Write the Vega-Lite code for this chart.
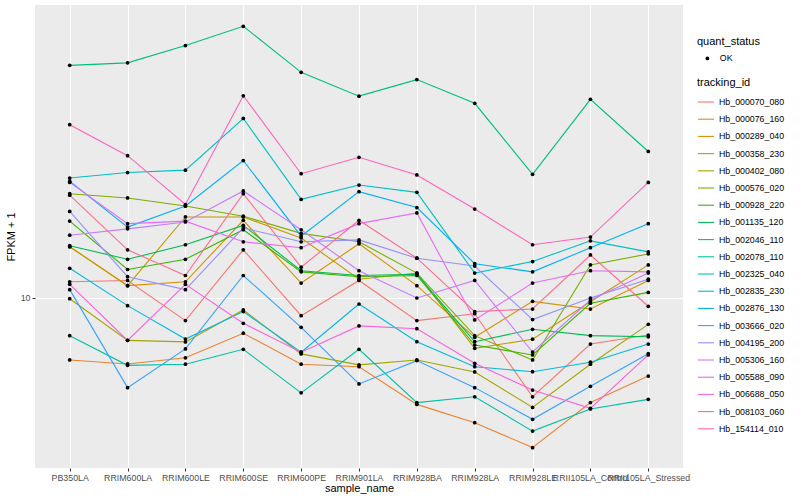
{
"$schema":"https://vega.github.io/schema/vega-lite/v6.json",
"width":648,"height":463,
"autosize":{"type":"none"},
"padding":{"left":35,"top":5,"right":117,"bottom":32},
"background":"white",
"data":{"values":[
{"id":"Hb_000070_080","sample":"PB350LA","fpkm":11.2,"status":"OK"},{"id":"Hb_000070_080","sample":"RRIM600LA","fpkm":11.3,"status":"OK"},{"id":"Hb_000070_080","sample":"RRIM600LE","fpkm":8.54,"status":"OK"},{"id":"Hb_000070_080","sample":"RRIM600SE","fpkm":14.0,"status":"OK"},{"id":"Hb_000070_080","sample":"RRIM600PE","fpkm":8.84,"status":"OK"},{"id":"Hb_000070_080","sample":"RRIM901LA","fpkm":11.3,"status":"OK"},{"id":"Hb_000070_080","sample":"RRIM928BA","fpkm":8.54,"status":"OK"},{"id":"Hb_000070_080","sample":"RRIM928LA","fpkm":8.96,"status":"OK"},{"id":"Hb_000070_080","sample":"RRIM928LE","fpkm":5.02,"status":"OK"},{"id":"Hb_000070_080","sample":"RRII105LA_Control","fpkm":7.25,"status":"OK"},{"id":"Hb_000070_080","sample":"RRII105LA_Stressed","fpkm":7.72,"status":"OK"},
{"id":"Hb_000076_160","sample":"PB350LA","fpkm":6.49,"status":"OK"},{"id":"Hb_000076_160","sample":"RRIM600LA","fpkm":6.31,"status":"OK"},{"id":"Hb_000076_160","sample":"RRIM600LE","fpkm":6.59,"status":"OK"},{"id":"Hb_000076_160","sample":"RRIM600SE","fpkm":7.82,"status":"OK"},{"id":"Hb_000076_160","sample":"RRIM600PE","fpkm":6.30,"status":"OK"},{"id":"Hb_000076_160","sample":"RRIM901LA","fpkm":6.19,"status":"OK"},{"id":"Hb_000076_160","sample":"RRIM928BA","fpkm":4.76,"status":"OK"},{"id":"Hb_000076_160","sample":"RRIM928LA","fpkm":4.19,"status":"OK"},{"id":"Hb_000076_160","sample":"RRIM928LE","fpkm":3.52,"status":"OK"},{"id":"Hb_000076_160","sample":"RRII105LA_Control","fpkm":4.82,"status":"OK"},{"id":"Hb_000076_160","sample":"RRII105LA_Stressed","fpkm":5.80,"status":"OK"},
{"id":"Hb_000289_040","sample":"PB350LA","fpkm":14.3,"status":"OK"},{"id":"Hb_000289_040","sample":"RRIM600LA","fpkm":10.9,"status":"OK"},{"id":"Hb_000289_040","sample":"RRIM600LE","fpkm":11.2,"status":"OK"},{"id":"Hb_000289_040","sample":"RRIM600SE","fpkm":17.2,"status":"OK"},{"id":"Hb_000289_040","sample":"RRIM600PE","fpkm":11.1,"status":"OK"},{"id":"Hb_000289_040","sample":"RRIM901LA","fpkm":14.6,"status":"OK"},{"id":"Hb_000289_040","sample":"RRIM928BA","fpkm":10.9,"status":"OK"},{"id":"Hb_000289_040","sample":"RRIM928LA","fpkm":7.60,"status":"OK"},{"id":"Hb_000289_040","sample":"RRIM928LE","fpkm":9.77,"status":"OK"},{"id":"Hb_000289_040","sample":"RRII105LA_Control","fpkm":9.26,"status":"OK"},{"id":"Hb_000289_040","sample":"RRII105LA_Stressed","fpkm":11.3,"status":"OK"},
{"id":"Hb_000358_230","sample":"PB350LA","fpkm":14.3,"status":"OK"},{"id":"Hb_000358_230","sample":"RRIM600LA","fpkm":10.9,"status":"OK"},{"id":"Hb_000358_230","sample":"RRIM600LE","fpkm":17.6,"status":"OK"},{"id":"Hb_000358_230","sample":"RRIM600SE","fpkm":17.6,"status":"OK"},{"id":"Hb_000358_230","sample":"RRIM600PE","fpkm":15.2,"status":"OK"},{"id":"Hb_000358_230","sample":"RRIM901LA","fpkm":11.4,"status":"OK"},{"id":"Hb_000358_230","sample":"RRIM928BA","fpkm":11.9,"status":"OK"},{"id":"Hb_000358_230","sample":"RRIM928LA","fpkm":7.04,"status":"OK"},{"id":"Hb_000358_230","sample":"RRIM928LE","fpkm":7.50,"status":"OK"},{"id":"Hb_000358_230","sample":"RRII105LA_Control","fpkm":9.74,"status":"OK"},{"id":"Hb_000358_230","sample":"RRII105LA_Stressed","fpkm":12.6,"status":"OK"},
{"id":"Hb_000402_080","sample":"PB350LA","fpkm":9.95,"status":"OK"},{"id":"Hb_000402_080","sample":"RRIM600LA","fpkm":7.44,"status":"OK"},{"id":"Hb_000402_080","sample":"RRIM600LE","fpkm":7.36,"status":"OK"},{"id":"Hb_000402_080","sample":"RRIM600SE","fpkm":9.20,"status":"OK"},{"id":"Hb_000402_080","sample":"RRIM600PE","fpkm":6.77,"status":"OK"},{"id":"Hb_000402_080","sample":"RRIM901LA","fpkm":6.27,"status":"OK"},{"id":"Hb_000402_080","sample":"RRIM928BA","fpkm":6.49,"status":"OK"},{"id":"Hb_000402_080","sample":"RRIM928LA","fpkm":5.97,"status":"OK"},{"id":"Hb_000402_080","sample":"RRIM928LE","fpkm":4.66,"status":"OK"},{"id":"Hb_000402_080","sample":"RRII105LA_Control","fpkm":6.30,"status":"OK"},{"id":"Hb_000402_080","sample":"RRII105LA_Stressed","fpkm":8.32,"status":"OK"},
{"id":"Hb_000576_020","sample":"PB350LA","fpkm":20.7,"status":"OK"},{"id":"Hb_000576_020","sample":"RRIM600LA","fpkm":20.1,"status":"OK"},{"id":"Hb_000576_020","sample":"RRIM600LE","fpkm":19.0,"status":"OK"},{"id":"Hb_000576_020","sample":"RRIM600SE","fpkm":17.7,"status":"OK"},{"id":"Hb_000576_020","sample":"RRIM600PE","fpkm":15.7,"status":"OK"},{"id":"Hb_000576_020","sample":"RRIM901LA","fpkm":14.8,"status":"OK"},{"id":"Hb_000576_020","sample":"RRIM928BA","fpkm":11.9,"status":"OK"},{"id":"Hb_000576_020","sample":"RRIM928LA","fpkm":7.69,"status":"OK"},{"id":"Hb_000576_020","sample":"RRIM928LE","fpkm":6.49,"status":"OK"},{"id":"Hb_000576_020","sample":"RRII105LA_Control","fpkm":12.6,"status":"OK"},{"id":"Hb_000576_020","sample":"RRII105LA_Stressed","fpkm":13.6,"status":"OK"},
{"id":"Hb_000928_220","sample":"PB350LA","fpkm":17.1,"status":"OK"},{"id":"Hb_000928_220","sample":"RRIM600LA","fpkm":12.2,"status":"OK"},{"id":"Hb_000928_220","sample":"RRIM600LE","fpkm":13.1,"status":"OK"},{"id":"Hb_000928_220","sample":"RRIM600SE","fpkm":16.1,"status":"OK"},{"id":"Hb_000928_220","sample":"RRIM600PE","fpkm":12.0,"status":"OK"},{"id":"Hb_000928_220","sample":"RRIM901LA","fpkm":11.6,"status":"OK"},{"id":"Hb_000928_220","sample":"RRIM928BA","fpkm":11.7,"status":"OK"},{"id":"Hb_000928_220","sample":"RRIM928LA","fpkm":7.20,"status":"OK"},{"id":"Hb_000928_220","sample":"RRIM928LE","fpkm":6.72,"status":"OK"},{"id":"Hb_000928_220","sample":"RRII105LA_Control","fpkm":9.64,"status":"OK"},{"id":"Hb_000928_220","sample":"RRII105LA_Stressed","fpkm":10.4,"status":"OK"},
{"id":"Hb_001135_120","sample":"PB350LA","fpkm":14.4,"status":"OK"},{"id":"Hb_001135_120","sample":"RRIM600LA","fpkm":13.1,"status":"OK"},{"id":"Hb_001135_120","sample":"RRIM600LE","fpkm":14.5,"status":"OK"},{"id":"Hb_001135_120","sample":"RRIM600SE","fpkm":16.6,"status":"OK"},{"id":"Hb_001135_120","sample":"RRIM600PE","fpkm":12.1,"status":"OK"},{"id":"Hb_001135_120","sample":"RRIM901LA","fpkm":11.7,"status":"OK"},{"id":"Hb_001135_120","sample":"RRIM928BA","fpkm":11.8,"status":"OK"},{"id":"Hb_001135_120","sample":"RRIM928LA","fpkm":7.37,"status":"OK"},{"id":"Hb_001135_120","sample":"RRIM928LE","fpkm":8.04,"status":"OK"},{"id":"Hb_001135_120","sample":"RRII105LA_Control","fpkm":7.69,"status":"OK"},{"id":"Hb_001135_120","sample":"RRII105LA_Stressed","fpkm":7.63,"status":"OK"},
{"id":"Hb_002046_110","sample":"PB350LA","fpkm":50.7,"status":"OK"},{"id":"Hb_002046_110","sample":"RRIM600LA","fpkm":51.6,"status":"OK"},{"id":"Hb_002046_110","sample":"RRIM600LE","fpkm":58.2,"status":"OK"},{"id":"Hb_002046_110","sample":"RRIM600SE","fpkm":66.6,"status":"OK"},{"id":"Hb_002046_110","sample":"RRIM600PE","fpkm":48.3,"status":"OK"},{"id":"Hb_002046_110","sample":"RRIM901LA","fpkm":40.9,"status":"OK"},{"id":"Hb_002046_110","sample":"RRIM928BA","fpkm":45.9,"status":"OK"},{"id":"Hb_002046_110","sample":"RRIM928LA","fpkm":38.9,"status":"OK"},{"id":"Hb_002046_110","sample":"RRIM928LE","fpkm":23.7,"status":"OK"},{"id":"Hb_002046_110","sample":"RRII105LA_Control","fpkm":40.0,"status":"OK"},{"id":"Hb_002046_110","sample":"RRII105LA_Stressed","fpkm":27.8,"status":"OK"},
{"id":"Hb_002078_110","sample":"PB350LA","fpkm":7.69,"status":"OK"},{"id":"Hb_002078_110","sample":"RRIM600LA","fpkm":6.25,"status":"OK"},{"id":"Hb_002078_110","sample":"RRIM600LE","fpkm":6.30,"status":"OK"},{"id":"Hb_002078_110","sample":"RRIM600SE","fpkm":6.99,"status":"OK"},{"id":"Hb_002078_110","sample":"RRIM600PE","fpkm":5.16,"status":"OK"},{"id":"Hb_002078_110","sample":"RRIM901LA","fpkm":6.99,"status":"OK"},{"id":"Hb_002078_110","sample":"RRIM928BA","fpkm":4.82,"status":"OK"},{"id":"Hb_002078_110","sample":"RRIM928LA","fpkm":5.02,"status":"OK"},{"id":"Hb_002078_110","sample":"RRIM928LE","fpkm":3.95,"status":"OK"},{"id":"Hb_002078_110","sample":"RRII105LA_Control","fpkm":4.61,"status":"OK"},{"id":"Hb_002078_110","sample":"RRII105LA_Stressed","fpkm":4.93,"status":"OK"},
{"id":"Hb_002325_040","sample":"PB350LA","fpkm":23.1,"status":"OK"},{"id":"Hb_002325_040","sample":"RRIM600LA","fpkm":24.0,"status":"OK"},{"id":"Hb_002325_040","sample":"RRIM600LE","fpkm":24.4,"status":"OK"},{"id":"Hb_002325_040","sample":"RRIM600SE","fpkm":35.0,"status":"OK"},{"id":"Hb_002325_040","sample":"RRIM600PE","fpkm":19.9,"status":"OK"},{"id":"Hb_002325_040","sample":"RRIM901LA","fpkm":22.0,"status":"OK"},{"id":"Hb_002325_040","sample":"RRIM928BA","fpkm":20.9,"status":"OK"},{"id":"Hb_002325_040","sample":"RRIM928LA","fpkm":11.9,"status":"OK"},{"id":"Hb_002325_040","sample":"RRIM928LE","fpkm":12.9,"status":"OK"},{"id":"Hb_002325_040","sample":"RRII105LA_Control","fpkm":14.9,"status":"OK"},{"id":"Hb_002325_040","sample":"RRII105LA_Stressed","fpkm":13.8,"status":"OK"},
{"id":"Hb_002835_230","sample":"PB350LA","fpkm":12.3,"status":"OK"},{"id":"Hb_002835_230","sample":"RRIM600LA","fpkm":9.48,"status":"OK"},{"id":"Hb_002835_230","sample":"RRIM600LE","fpkm":7.51,"status":"OK"},{"id":"Hb_002835_230","sample":"RRIM600SE","fpkm":9.10,"status":"OK"},{"id":"Hb_002835_230","sample":"RRIM600PE","fpkm":6.85,"status":"OK"},{"id":"Hb_002835_230","sample":"RRIM901LA","fpkm":9.59,"status":"OK"},{"id":"Hb_002835_230","sample":"RRIM928BA","fpkm":7.37,"status":"OK"},{"id":"Hb_002835_230","sample":"RRIM928LA","fpkm":6.19,"status":"OK"},{"id":"Hb_002835_230","sample":"RRIM928LE","fpkm":5.98,"status":"OK"},{"id":"Hb_002835_230","sample":"RRII105LA_Control","fpkm":6.39,"status":"OK"},{"id":"Hb_002835_230","sample":"RRII105LA_Stressed","fpkm":7.25,"status":"OK"},
{"id":"Hb_002876_130","sample":"PB350LA","fpkm":22.6,"status":"OK"},{"id":"Hb_002876_130","sample":"RRIM600LA","fpkm":16.4,"status":"OK"},{"id":"Hb_002876_130","sample":"RRIM600LE","fpkm":19.0,"status":"OK"},{"id":"Hb_002876_130","sample":"RRIM600SE","fpkm":26.1,"status":"OK"},{"id":"Hb_002876_130","sample":"RRIM600PE","fpkm":15.4,"status":"OK"},{"id":"Hb_002876_130","sample":"RRIM901LA","fpkm":21.0,"status":"OK"},{"id":"Hb_002876_130","sample":"RRIM928BA","fpkm":18.8,"status":"OK"},{"id":"Hb_002876_130","sample":"RRIM928LA","fpkm":12.7,"status":"OK"},{"id":"Hb_002876_130","sample":"RRIM928LE","fpkm":12.0,"status":"OK"},{"id":"Hb_002876_130","sample":"RRII105LA_Control","fpkm":14.2,"status":"OK"},{"id":"Hb_002876_130","sample":"RRII105LA_Stressed","fpkm":16.8,"status":"OK"},
{"id":"Hb_003666_020","sample":"PB350LA","fpkm":10.6,"status":"OK"},{"id":"Hb_003666_020","sample":"RRIM600LA","fpkm":5.35,"status":"OK"},{"id":"Hb_003666_020","sample":"RRIM600LE","fpkm":7.01,"status":"OK"},{"id":"Hb_003666_020","sample":"RRIM600SE","fpkm":11.7,"status":"OK"},{"id":"Hb_003666_020","sample":"RRIM600PE","fpkm":8.15,"status":"OK"},{"id":"Hb_003666_020","sample":"RRIM901LA","fpkm":5.49,"status":"OK"},{"id":"Hb_003666_020","sample":"RRIM928BA","fpkm":6.46,"status":"OK"},{"id":"Hb_003666_020","sample":"RRIM928LA","fpkm":5.35,"status":"OK"},{"id":"Hb_003666_020","sample":"RRIM928LE","fpkm":4.29,"status":"OK"},{"id":"Hb_003666_020","sample":"RRII105LA_Control","fpkm":5.40,"status":"OK"},{"id":"Hb_003666_020","sample":"RRII105LA_Stressed","fpkm":6.78,"status":"OK"},
{"id":"Hb_004195_200","sample":"PB350LA","fpkm":18.3,"status":"OK"},{"id":"Hb_004195_200","sample":"RRIM600LA","fpkm":11.6,"status":"OK"},{"id":"Hb_004195_200","sample":"RRIM600LE","fpkm":10.6,"status":"OK"},{"id":"Hb_004195_200","sample":"RRIM600SE","fpkm":16.3,"status":"OK"},{"id":"Hb_004195_200","sample":"RRIM600PE","fpkm":14.8,"status":"OK"},{"id":"Hb_004195_200","sample":"RRIM901LA","fpkm":15.0,"status":"OK"},{"id":"Hb_004195_200","sample":"RRIM928BA","fpkm":13.2,"status":"OK"},{"id":"Hb_004195_200","sample":"RRIM928LA","fpkm":12.5,"status":"OK"},{"id":"Hb_004195_200","sample":"RRIM928LE","fpkm":8.60,"status":"OK"},{"id":"Hb_004195_200","sample":"RRII105LA_Control","fpkm":10.0,"status":"OK"},{"id":"Hb_004195_200","sample":"RRII105LA_Stressed","fpkm":11.4,"status":"OK"},
{"id":"Hb_005306_160","sample":"PB350LA","fpkm":15.5,"status":"OK"},{"id":"Hb_005306_160","sample":"RRIM600LA","fpkm":16.2,"status":"OK"},{"id":"Hb_005306_160","sample":"RRIM600LE","fpkm":17.0,"status":"OK"},{"id":"Hb_005306_160","sample":"RRIM600SE","fpkm":21.1,"status":"OK"},{"id":"Hb_005306_160","sample":"RRIM600PE","fpkm":16.1,"status":"OK"},{"id":"Hb_005306_160","sample":"RRIM901LA","fpkm":12.1,"status":"OK"},{"id":"Hb_005306_160","sample":"RRIM928BA","fpkm":10.0,"status":"OK"},{"id":"Hb_005306_160","sample":"RRIM928LA","fpkm":11.3,"status":"OK"},{"id":"Hb_005306_160","sample":"RRIM928LE","fpkm":6.86,"status":"OK"},{"id":"Hb_005306_160","sample":"RRII105LA_Control","fpkm":9.86,"status":"OK"},{"id":"Hb_005306_160","sample":"RRII105LA_Stressed","fpkm":11.9,"status":"OK"},
{"id":"Hb_005588_090","sample":"PB350LA","fpkm":22.4,"status":"OK"},{"id":"Hb_005588_090","sample":"RRIM600LA","fpkm":16.8,"status":"OK"},{"id":"Hb_005588_090","sample":"RRIM600LE","fpkm":17.1,"status":"OK"},{"id":"Hb_005588_090","sample":"RRIM600SE","fpkm":14.8,"status":"OK"},{"id":"Hb_005588_090","sample":"RRIM600PE","fpkm":14.2,"status":"OK"},{"id":"Hb_005588_090","sample":"RRIM901LA","fpkm":16.8,"status":"OK"},{"id":"Hb_005588_090","sample":"RRIM928BA","fpkm":18.1,"status":"OK"},{"id":"Hb_005588_090","sample":"RRIM928LA","fpkm":8.58,"status":"OK"},{"id":"Hb_005588_090","sample":"RRIM928LE","fpkm":11.1,"status":"OK"},{"id":"Hb_005588_090","sample":"RRII105LA_Control","fpkm":12.1,"status":"OK"},{"id":"Hb_005588_090","sample":"RRII105LA_Stressed","fpkm":12.0,"status":"OK"},
{"id":"Hb_006688_050","sample":"PB350LA","fpkm":11.0,"status":"OK"},{"id":"Hb_006688_050","sample":"RRIM600LA","fpkm":7.44,"status":"OK"},{"id":"Hb_006688_050","sample":"RRIM600LE","fpkm":11.0,"status":"OK"},{"id":"Hb_006688_050","sample":"RRIM600SE","fpkm":8.38,"status":"OK"},{"id":"Hb_006688_050","sample":"RRIM600PE","fpkm":6.85,"status":"OK"},{"id":"Hb_006688_050","sample":"RRIM901LA","fpkm":8.23,"status":"OK"},{"id":"Hb_006688_050","sample":"RRIM928BA","fpkm":8.07,"status":"OK"},{"id":"Hb_006688_050","sample":"RRIM928LA","fpkm":6.34,"status":"OK"},{"id":"Hb_006688_050","sample":"RRIM928LE","fpkm":5.26,"status":"OK"},{"id":"Hb_006688_050","sample":"RRII105LA_Control","fpkm":4.63,"status":"OK"},{"id":"Hb_006688_050","sample":"RRII105LA_Stressed","fpkm":6.72,"status":"OK"},
{"id":"Hb_008103_060","sample":"PB350LA","fpkm":33.5,"status":"OK"},{"id":"Hb_008103_060","sample":"RRIM600LA","fpkm":27.0,"status":"OK"},{"id":"Hb_008103_060","sample":"RRIM600LE","fpkm":19.2,"status":"OK"},{"id":"Hb_008103_060","sample":"RRIM600SE","fpkm":41.0,"status":"OK"},{"id":"Hb_008103_060","sample":"RRIM600PE","fpkm":23.8,"status":"OK"},{"id":"Hb_008103_060","sample":"RRIM901LA","fpkm":26.7,"status":"OK"},{"id":"Hb_008103_060","sample":"RRIM928BA","fpkm":23.6,"status":"OK"},{"id":"Hb_008103_060","sample":"RRIM928LA","fpkm":18.6,"status":"OK"},{"id":"Hb_008103_060","sample":"RRIM928LE","fpkm":14.5,"status":"OK"},{"id":"Hb_008103_060","sample":"RRII105LA_Control","fpkm":15.3,"status":"OK"},{"id":"Hb_008103_060","sample":"RRII105LA_Stressed","fpkm":22.4,"status":"OK"},
{"id":"Hb_154114_010","sample":"PB350LA","fpkm":20.5,"status":"OK"},{"id":"Hb_154114_010","sample":"RRIM600LA","fpkm":14.0,"status":"OK"},{"id":"Hb_154114_010","sample":"RRIM600LE","fpkm":11.7,"status":"OK"},{"id":"Hb_154114_010","sample":"RRIM600SE","fpkm":20.7,"status":"OK"},{"id":"Hb_154114_010","sample":"RRIM600PE","fpkm":12.4,"status":"OK"},{"id":"Hb_154114_010","sample":"RRIM901LA","fpkm":17.2,"status":"OK"},{"id":"Hb_154114_010","sample":"RRIM928BA","fpkm":13.2,"status":"OK"},{"id":"Hb_154114_010","sample":"RRIM928LA","fpkm":9.09,"status":"OK"},{"id":"Hb_154114_010","sample":"RRIM928LE","fpkm":9.26,"status":"OK"},{"id":"Hb_154114_010","sample":"RRII105LA_Control","fpkm":13.5,"status":"OK"},{"id":"Hb_154114_010","sample":"RRII105LA_Stressed","fpkm":9.44,"status":"OK"}
]},
"encoding":{
"x":{"field":"sample","type":"nominal","sort":["PB350LA","RRIM600LA","RRIM600LE","RRIM600SE","RRIM600PE","RRIM901LA","RRIM928BA","RRIM928LA","RRIM928LE","RRII105LA_Control","RRII105LA_Stressed"],"scale":{"type":"point","padding":0.6},"axis":{"title":"sample_name","labelAngle":0,"grid":true,"labelOverlap":false,"labelBound":false,"titlePadding":1}},
"y":{"field":"fpkm","type":"quantitative","scale":{"type":"log","domain":[3.0535,77.257],"nice":false,"zero":false},"axis":{"title":"FPKM + 1","values":[10],"format":"d","grid":true,"titlePadding":4}}
},
"layer":[
{"mark":{"type":"line","strokeWidth":1.1},
"encoding":{
"color":{"field":"id","type":"nominal","scale":{"domain":["Hb_000070_080","Hb_000076_160","Hb_000289_040","Hb_000358_230","Hb_000402_080","Hb_000576_020","Hb_000928_220","Hb_001135_120","Hb_002046_110","Hb_002078_110","Hb_002325_040","Hb_002835_230","Hb_002876_130","Hb_003666_020","Hb_004195_200","Hb_005306_160","Hb_005588_090","Hb_006688_050","Hb_008103_060","Hb_154114_010"],"range":["#F8766D","#EA8331","#D89000","#C09B00","#A3A500","#7CAE00","#39B600","#00BB4E","#00BF7D","#00C1A3","#00BFC4","#00BAE0","#00B0F6","#35A2FF","#9590FF","#C77CFF","#E76BF3","#FA62DB","#FF62BC","#FF6C91"]},
"legend":{"title":"tracking_id","orient":"none","legendX":662,"legendY":72,"symbolType":"stroke","symbolSize":256,"symbolStrokeWidth":1.1,"rowPadding":3.2,"labelOffset":4,"titlePadding":5}},
"order":{"value":null}
}},
{"mark":{"type":"point","filled":true,"color":"black","size":14,"opacity":1},
"encoding":{
"shape":{"field":"status","type":"nominal","scale":{"range":["circle"]},"legend":{"title":"quant_status","orient":"none","legendX":662,"legendY":31,"symbolSize":14,"symbolOffset":6,"labelOffset":8,"titlePadding":7,"symbolFillColor":"black","symbolStrokeColor":"black"}}
}}
],
"config":{
"font":"Liberation Sans",
"view":{"fill":"#EBEBEB","stroke":null},
"axis":{"domain":false,"gridColor":"#FFFFFF","gridWidth":1.1,"tickColor":"#333333","tickSize":3,"labelColor":"#4D4D4D","labelFontSize":8.8,"labelPadding":2,"titleColor":"#000000","titleFontSize":11,"titleFontWeight":"normal"},
"legend":{"titleFontSize":11,"titleFontWeight":"normal","titleColor":"#000000","labelFontSize":8.8,"labelColor":"#000000","padding":0}
}
}
